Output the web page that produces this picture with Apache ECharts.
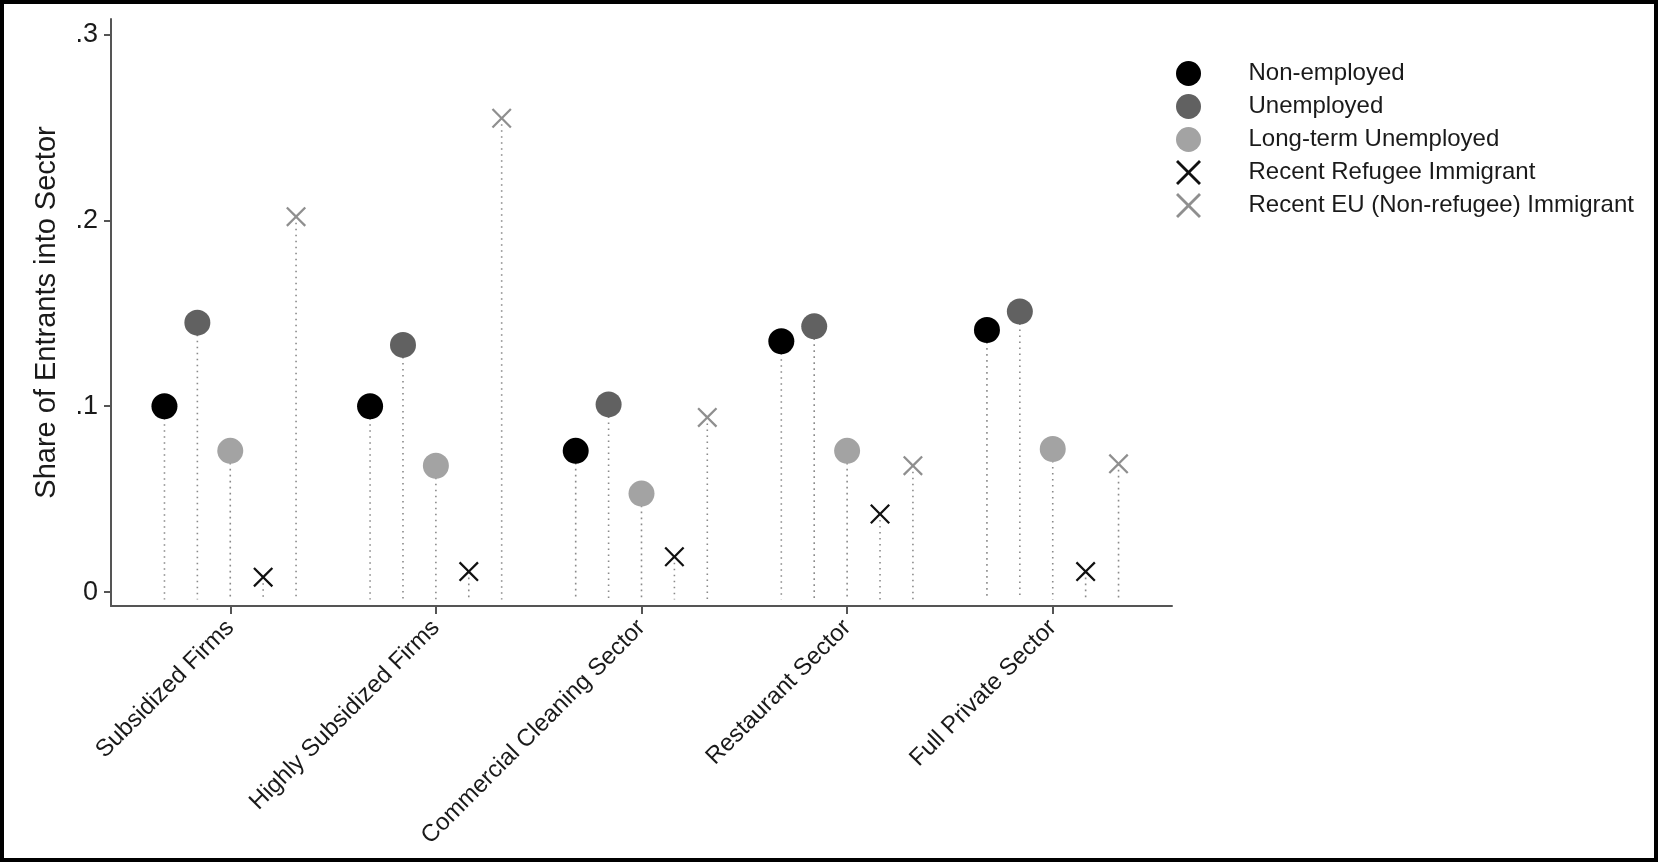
<!DOCTYPE html>
<html>
<head>
<meta charset="utf-8">
<script src="https://cdn.jsdelivr.net/npm/echarts@6/dist/echarts.min.js"></script>
<style>
  html, body { margin: 0; padding: 0; background: #fff; }
  #chart { position: absolute; left: 0; top: 0; width: 1658px; height: 862px; }
  #frame { position: absolute; left: 0; top: 0; width: 1658px; height: 862px; box-sizing: border-box; border: 4px solid #000; pointer-events: none; }
</style>
</head>
<body>
<div id="chart"></div>
<div id="frame"></div>
<script>
const categories = ['Subsidized Firms', 'Highly Subsidized Firms', 'Commercial Cleaning Sector', 'Restaurant Sector', 'Full Private Sector'];
const seriesNames = ['Non-employed', 'Unemployed', 'Long-term Unemployed', 'Recent Refugee Immigrant', 'Recent EU (Non-refugee) Immigrant'];
const nonEmployed = [0.100, 0.100, 0.076, 0.135, 0.141];
const unemployed = [0.145, 0.133, 0.101, 0.143, 0.151];
const longTermUnemployed = [0.076, 0.068, 0.053, 0.076, 0.077];
const refugeeImmigrant = [0.008, 0.011, 0.019, 0.042, 0.011];
const euImmigrant = [0.202, 0.255, 0.094, 0.068, 0.069];
const yTickValues = [0, 0.1, 0.2, 0.3];
const yTickLabels = ['0', '.1', '.2', '.3'];

const allValues = [nonEmployed, unemployed, longTermUnemployed, refugeeImmigrant, euImmigrant];
const offsets = [-0.32, -0.16, 0, 0.16, 0.32];
const colors = ['#000000', '#616161', '#a3a3a3', '#111111', '#8f8f8f'];
const crossPath = 'path://M0,0.8L0.8,0L5,4.2L9.2,0L10,0.8L5.8,5L10,9.2L9.2,10L5,5.8L0.8,10L0,9.2L4.2,5Z';
const symbols = ['circle', 'circle', 'circle', crossPath, crossPath];
const sizes = [26, 26, 26, 20, 20];
const FONT = '"Liberation Sans", Arial, sans-serif';

const stemData = [];
const series = allValues.map((vals, k) => {
  const data = vals.map((v, i) => [i + 1 + offsets[k], v]);
  data.forEach(d => stemData.push(d));
  return {
    name: seriesNames[k],
    type: 'scatter',
    symbol: symbols[k],
    symbolSize: sizes[k],
    itemStyle: { color: colors[k], opacity: 1 },
    z: 3,
    data: data
  };
});

series.unshift({
  type: 'custom',
  name: 'stems',
  z: 1,
  silent: true,
  encode: { x: 0, y: 1 },
  data: stemData,
  renderItem: function (params, api) {
    const top = api.coord([api.value(0), api.value(1)]);
    const bottom = api.coord([api.value(0), -0.004]);
    return {
      type: 'line',
      shape: { x1: top[0], y1: top[1], x2: bottom[0], y2: bottom[1] },
      style: { stroke: '#8a8a8a', lineWidth: 1.6, lineDash: [1.6, 4.4] }
    };
  }
});

const chart = echarts.init(document.getElementById('chart'));
chart.setOption({
  animation: false,
  backgroundColor: '#fff',
  textStyle: { fontFamily: FONT },
  grid: { left: 111, right: 486, top: 19, bottom: 256, containLabel: false },
  legend: {
    data: seriesNames,
    orient: 'vertical',
    left: 1171,
    top: 56,
    itemWidth: 110,
    itemHeight: 25,
    itemGap: 8,
    textStyle: { fontSize: 24, color: '#1a1a1a', fontFamily: FONT },
    selectedMode: false
  },
  xAxis: {
    type: 'value',
    min: 0.42,
    max: 5.58,
    splitLine: { show: false },
    axisLine: { show: true, onZero: false, lineStyle: { color: '#555', width: 2 } },
    axisTick: { show: true, customValues: [1, 2, 3, 4, 5], length: 8, lineStyle: { color: '#555', width: 2 } },
    axisLabel: {
      customValues: [1, 2, 3, 4, 5],
      rotate: 45,
      margin: 18,
      fontSize: 24,
      color: '#1a1a1a',
      fontFamily: FONT,
      formatter: v => categories[Math.round(v) - 1] || ''
    }
  },
  yAxis: {
    type: 'value',
    min: -0.0075,
    max: 0.3084,
    name: 'Share of Entrants into Sector',
    nameLocation: 'middle',
    nameGap: 50,
    nameTextStyle: { fontSize: 29, color: '#1a1a1a', fontFamily: FONT },
    splitLine: { show: false },
    axisLine: { show: true, lineStyle: { color: '#555', width: 2 } },
    axisTick: { show: true, customValues: yTickValues, length: 7, lineStyle: { color: '#555', width: 2 } },
    axisLabel: {
      customValues: yTickValues,
      margin: 13,
      fontSize: 27,
      color: '#1a1a1a',
      fontFamily: FONT,
      formatter: v => {
        const idx = yTickValues.findIndex(t => Math.abs(t - v) < 1e-9);
        return idx >= 0 ? yTickLabels[idx] : '';
      }
    }
  },
  series: series
});
</script>
</body>
</html>
